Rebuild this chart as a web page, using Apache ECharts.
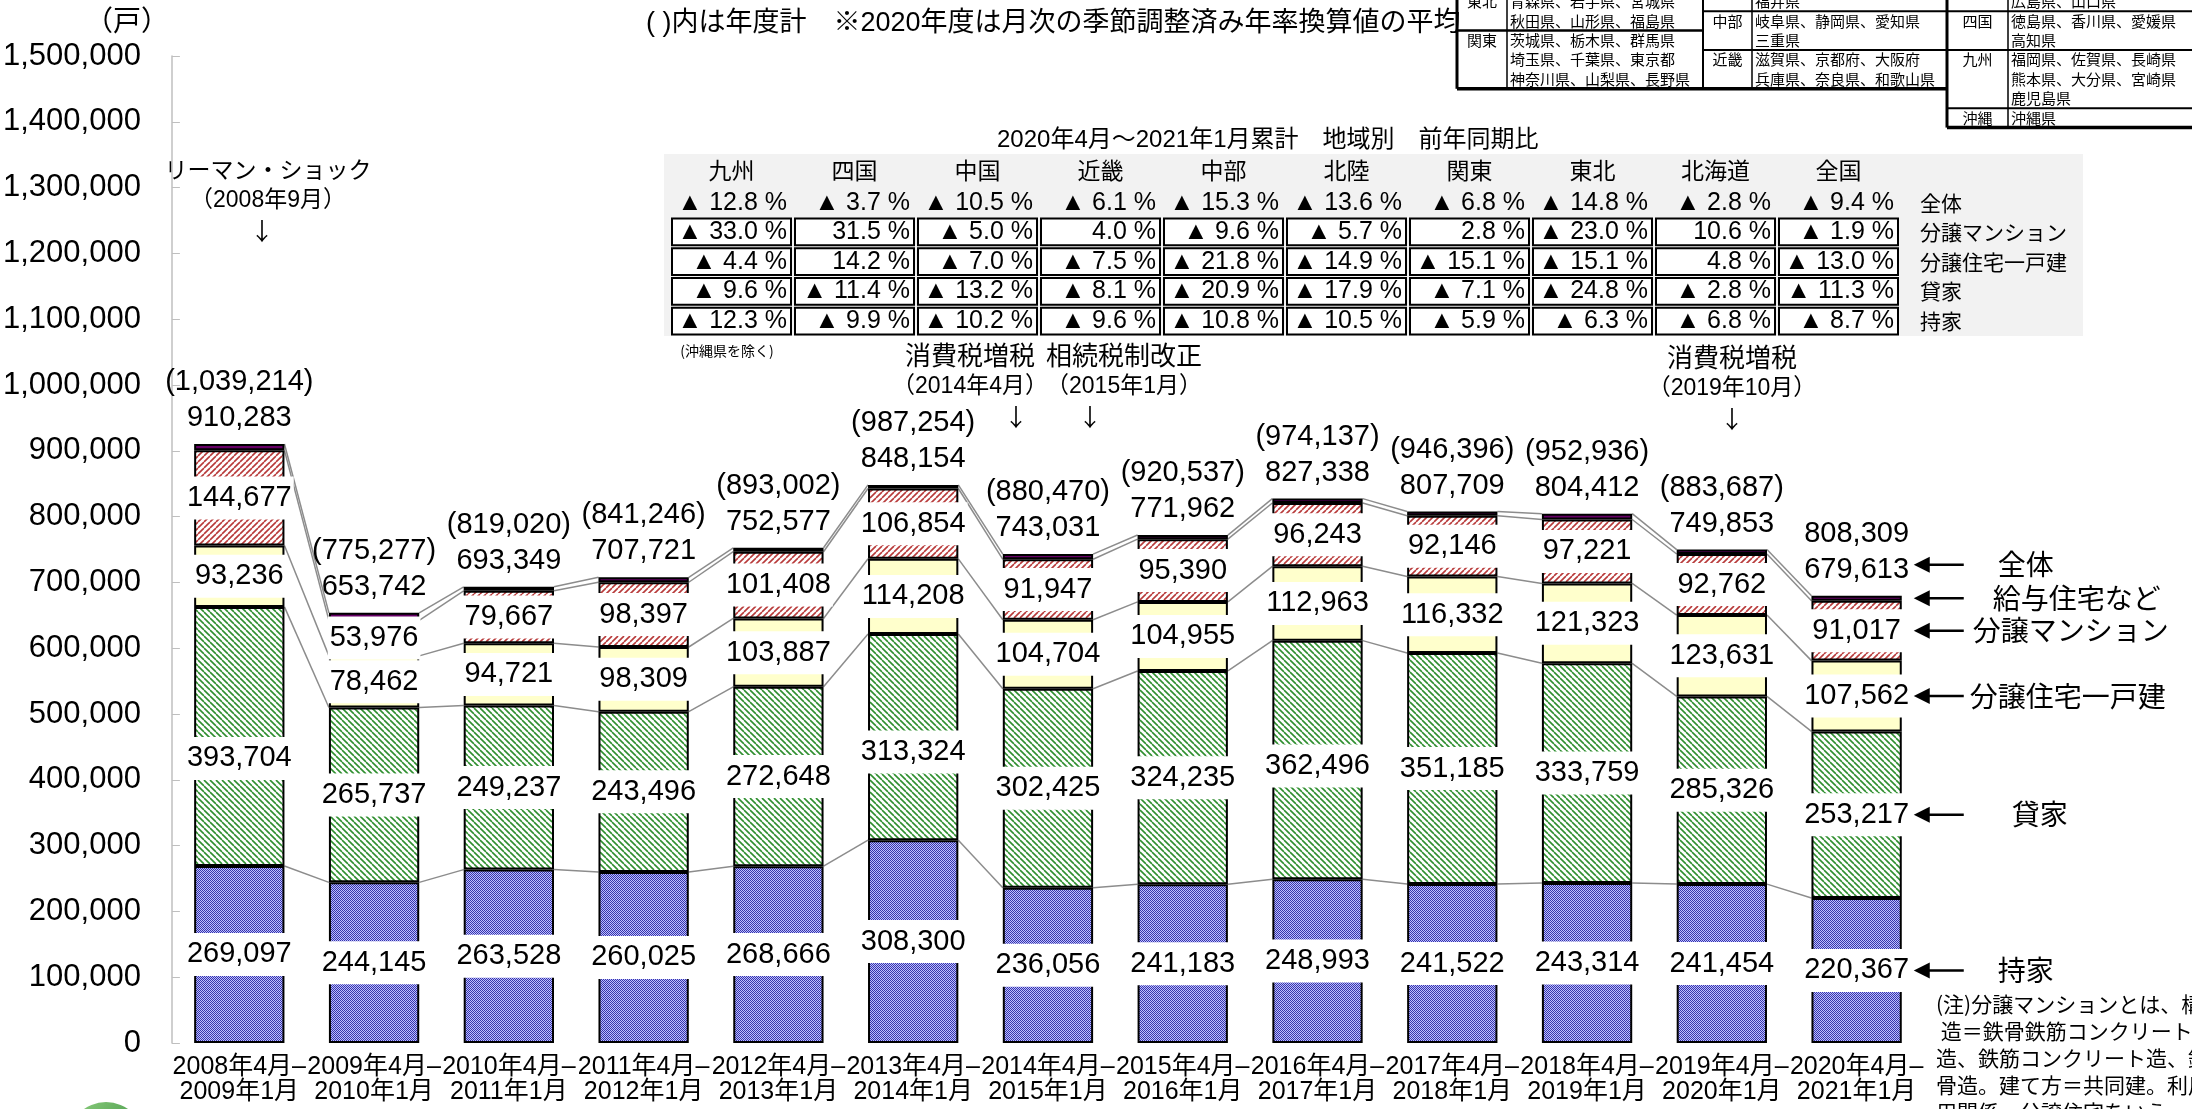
<!DOCTYPE html>
<title>新設住宅着工戸数</title>
<style>
body {margin: 0; background: #fff;}
#echart {height: 1109px; width: 2192px;}
</style>
<div id='echart'></div>
<script src='https://cdn.jsdelivr.net/npm/echarts@6/dist/echarts.min.js'></script>
<script>
let periods = ['2008年4月–\n2009年1月', '2009年4月–\n2010年1月', '2010年4月–\n2011年1月', '2011年4月–\n2012年1月', '2012年4月–\n2013年1月', '2013年4月–\n2014年1月', '2014年4月–\n2015年1月', '2015年4月–\n2016年1月', '2016年4月–\n2017年1月', '2017年4月–\n2018年1月', '2018年4月–\n2019年1月', '2019年4月–\n2020年1月', '2020年4月–\n2021年1月']
let mochiie = [269097, 244145, 263528, 260025, 268666, 308300, 236056, 241183, 248993, 241522, 243314, 241454, 220367]
let kashiya = [393704, 265737, 249237, 243496, 272648, 313324, 302425, 324235, 362496, 351185, 333759, 285326, 253217]
let kodate = [93236, 78462, 94721, 98309, 103887, 114208, 104704, 104955, 112963, 116332, 121323, 123631, 107562]
let mansion = [144677, 53976, 79667, 98397, 101408, 106854, 91947, 95390, 96243, 92146, 97221, 92762, 91017]
let kyuyo = [9569, 11422, 6196, 7494, 5968, 5468, 7899, 6199, 6643, 6524, 8795, 6680, 7450]
let totals = [910283, 653742, 693349, 707721, 752577, 848154, 743031, 771962, 827338, 807709, 804412, 749853, 679613]
let fiscal_totals = ['(1,039,214)', '(775,277)', '(819,020)', '(841,246)', '(893,002)', '(987,254)', '(880,470)', '(920,537)', '(974,137)', '(946,396)', '(952,936)', '(883,687)', '808,309']
let y_ticks = {min: 0, max: 1500000, interval: 100000}

let regions = ['九州', '四国', '中国', '近畿', '中部', '北陸', '関東', '東北', '北海道', '全国']
let region_rows = ['全体', '分譲マンション', '分譲住宅一戸建', '貸家', '持家']
let region_change = [
	[-12.8, -3.7, -10.5, -6.1, -15.3, -13.6, -6.8, -14.8, -2.8, -9.4],
	[-33.0, 31.5, -5.0, 4.0, -9.6, -5.7, 2.8, -23.0, 10.6, -1.9],
	[-4.4, 14.2, -7.0, -7.5, -21.8, -14.9, -15.1, -15.1, 4.8, -13.0],
	[-9.6, -11.4, -13.2, -8.1, -20.9, -17.9, -7.1, -24.8, -2.8, -11.3],
	[-12.3, -9.9, -10.2, -9.6, -10.8, -10.5, -5.9, -6.3, -6.8, -8.7],
]
// 地域区分表 [列, 行, 文字]
let pref_cells = [
	[0, 0, '東北'], [1, 0, '青森県、岩手県、宮城県'], [1, 1, '秋田県、山形県、福島県'],
	[0, 2, '関東'], [1, 2, '茨城県、栃木県、群馬県'], [1, 3, '埼玉県、千葉県、東京都'], [1, 4, '神奈川県、山梨県、長野県'],
	[3, 0, '福井県'], [2, 1, '中部'], [3, 1, '岐阜県、静岡県、愛知県'], [3, 2, '三重県'],
	[2, 3, '近畿'], [3, 3, '滋賀県、京都府、大阪府'], [3, 4, '兵庫県、奈良県、和歌山県'],
	[5, 0, '広島県、山口県'], [4, 1, '四国'], [5, 1, '徳島県、香川県、愛媛県'], [5, 2, '高知県'],
	[4, 3, '九州'], [5, 3, '福岡県、佐賀県、長崎県'], [5, 4, '熊本県、大分県、宮崎県'], [5, 5, '鹿児島県'],
	[4, 6, '沖縄'], [5, 6, '沖縄県'],
]
let events = [
	{x: 268, y: 169, lines: ['リーマン・ショック', '（2008年9月）'], arrow: 262},
	{x: 970, y: 355, lines: ['消費税増税', '（2014年4月）'], arrow: 1016},
	{x: 1124, y: 355, lines: ['相続税制改正', '（2015年1月）'], arrow: 1090},
	{x: 1732, y: 357, lines: ['消費税増税', '（2019年10月）'], arrow: 1732},
]
let note_lines = ['(注)分譲マンションとは、構造＝', ' 造＝鉄骨鉄筋コンクリート造', '造、鉄筋コンクリート造、鉄骨', '骨造。建て方＝共同建。利用', '用関係＝分譲住宅をいう。']

const SANS = "'Liberation Sans', Arial, 'Noto Sans CJK JP', sans-serif"
const JP = "'Noto Sans CJK JP', sans-serif"

function fmt(v) {return v.toLocaleString('en-US')}

function tile(draw) {
	let c = document.createElement('canvas')
	c.width = 6
	c.height = 6
	let ctx = c.getContext('2d')
	draw(ctx)
	return {image: c, repetition: 'repeat'}
}
function hatch(color, back) {
	return tile(function (ctx) {
		ctx.fillStyle = '#fff'
		ctx.fillRect(0, 0, 6, 6)
		ctx.strokeStyle = color
		ctx.lineWidth = 1.6
		for (let k = -6; k <= 6; k += 6) {
			ctx.beginPath()
			if (back) {ctx.moveTo(k, 0); ctx.lineTo(k + 6, 6)}
			else {ctx.moveTo(k + 6, 0); ctx.lineTo(k, 6)}
			ctx.stroke()
		}
	})
}
let blue_fill = tile(function (ctx) {
	ctx.fillStyle = '#bcbcff'
	ctx.fillRect(0, 0, 6, 6)
	ctx.fillStyle = '#3636aa'
	for (let i = 0; i < 6; i++) for (let j = 0; j < 6; j++) if ((i + j) % 2 == 0) ctx.fillRect(i, j, 1, 1)
})

let seg_label = {
	show: true, position: 'inside', color: '#000', fontSize: 29, fontFamily: SANS,
	backgroundColor: '#fff', padding: [5, 2], lineHeight: 33,
	formatter: p => fmt(p.value),
}
// 貸家ラベルだけ元図では下寄せ
let kashiya_label_dy = [22, 0, 0, 0, 0, 15, 0, 0, 6, 0, 0, 0, 0]
let bar_border = {borderColor: '#000', borderWidth: 2}
let cum = periods.map((p, i) => {
	let c1 = mochiie[i], c2 = c1 + kashiya[i], c3 = c2 + kodate[i], c4 = c3 + mansion[i]
	return [c1, c2, c3, c4, totals[i]]
})

let graphic = []
function text(x, y, s, size, opts) {
	graphic.push({type: 'text', x: x, y: y, silent: true, style: Object.assign({
		text: s, fontSize: size, fontFamily: JP, fill: '#000', textAlign: 'center', textVerticalAlign: 'middle',
	}, opts || {})})
}
function line(x1, y1, x2, y2, w) {
	graphic.push({type: 'line', silent: true, shape: {x1, y1, x2, y2}, style: {stroke: '#000', lineWidth: w}})
}

text(127, 20, '（戸）', 28)
text(646, 24, '( )内は年度計　※2020年度は月次の季節調整済み年率換算値の平均', 27, {textAlign: 'left', fontFamily: SANS})

// 地域別 前年同期比 表
graphic.push({type: 'rect', silent: true, shape: {x: 664, y: 154, width: 1419, height: 182}, style: {fill: '#f2f2f2'}})
text(997, 140, '2020年4月～2021年1月累計　地域別　前年同期比', 24, {textAlign: 'left', fontFamily: SANS})
let col_w = 123, col_x = 670, row_top = 217, row_h = 29.75
regions.forEach((r, c) => text(col_x + col_w * c + col_w / 2, 170, r, 23))
region_change.forEach((vals, r) => {
	let yc = r == 0 ? 203 : row_top + row_h * (r - 1) + row_h / 2
	vals.forEach((v, c) => {
		let x = col_x + col_w * c
		if (r > 0) graphic.push({type: 'rect', silent: true, shape: {x: x + 2, y: row_top + row_h * (r - 1) + 1.5, width: col_w - 4, height: row_h - 3}, style: {fill: '#fff', stroke: '#000', lineWidth: 2}})
		let s = (v < 0 ? '▲ ' : '') + Math.abs(v).toFixed(1) + ' %'
		text(x + col_w - 6, yc, s, 25, {textAlign: 'right', fontFamily: SANS})
	})
	text(1920, yc, region_rows[r], 21, {textAlign: 'left'})
})
text(727, 351, '(沖縄県を除く)', 14)

// 地域区分
let pcol = [1457, 1507, 1703, 1752, 1947, 2008, 2200]
let prow = r => 1.5 + 19.4 * r
pref_cells.forEach(([c, r, s]) => {
	if (c % 2 == 0) text((pcol[c] + pcol[c + 1]) / 2, prow(r), s, 15)
	else text(pcol[c] + 3, prow(r), s, 15, {textAlign: 'left'})
})
let rb = r => prow(r) + 9.7
line(pcol[0], 0, pcol[0], rb(4), 3)
line(pcol[1], 0, pcol[1], rb(4), 1.5)
line(pcol[2], 0, pcol[2], rb(4), 2)
line(pcol[3], 0, pcol[3], rb(4), 1.5)
line(pcol[4], 0, pcol[4], rb(6), 3)
line(pcol[5], 0, pcol[5], rb(6), 1.5)
line(pcol[0], rb(1), pcol[2], rb(1), 2.5)
line(pcol[2], rb(0), pcol[4], rb(0), 2)
line(pcol[2], rb(2), pcol[4], rb(2), 2)
line(pcol[4], rb(0), pcol[6], rb(0), 2)
line(pcol[4], rb(2), pcol[6], rb(2), 2)
line(pcol[4], rb(5), pcol[6], rb(5), 2)
line(pcol[0], rb(4), pcol[4], rb(4), 3.5)
line(pcol[4], rb(6), pcol[6], rb(6), 3.5)

events.forEach(e => {
	text(e.x, e.y, e.lines[0], e.lines[0].length > 6 ? 23 : 26)
	text(e.x, e.y + 32, e.lines[1], 23, {fontFamily: SANS})
	text(e.arrow, e.y + 62, '↓', 24)
})
note_lines.forEach((s, i) => text(1936, 1004 + 27 * i, s, 21, {textAlign: 'left'}))
graphic.push({type: 'circle', silent: true, shape: {cx: 106, cy: 1140, r: 38}, style: {fill: new echarts.graphic.LinearGradient(0, 0, 1, 1, [{offset: 0, color: '#8fd07f'}, {offset: 1, color: '#1f7a2c'}])}})

let echart = echarts.init(document.querySelector('#echart'))
let option = {
	animation: false,
	grid: {left: 166, right: 268, top: 56, bottom: 66},
	xAxis: {
		type: 'category', data: periods,
		axisLine: {show: false}, axisTick: {show: false},
		axisLabel: {fontSize: 25, lineHeight: 25, color: '#000', fontFamily: SANS, margin: 12, interval: 0},
	},
	yAxis: {
		type: 'value', min: y_ticks.min, max: y_ticks.max, interval: y_ticks.interval,
		axisLine: {show: true, lineStyle: {color: '#bfbfbf', width: 1.5}},
		axisTick: {show: true, inside: true, length: 8, lineStyle: {color: '#bfbfbf'}},
		splitLine: {show: false},
		axisLabel: {fontSize: 31, color: '#000', fontFamily: SANS, margin: 31, formatter: fmt},
	},
	series: [
		{type: 'bar', name: '持家', stack: 'a', z: 2, barWidth: '67%', data: mochiie, itemStyle: Object.assign({color: blue_fill}, bar_border), label: seg_label},
		{type: 'bar', name: '貸家', stack: 'a', z: 2, itemStyle: Object.assign({color: hatch('#2f8f2f', true)}, bar_border), label: seg_label,
			data: kashiya.map((v, i) => ({value: v, label: {offset: [0, kashiya_label_dy[i]]}}))},
		{type: 'bar', name: '分譲住宅一戸建', stack: 'a', z: 2, data: kodate, itemStyle: Object.assign({color: '#ffffcc'}, bar_border), label: seg_label},
		{type: 'bar', name: '分譲マンション', stack: 'a', z: 2, data: mansion, itemStyle: Object.assign({color: hatch('#b83a3a', false)}, bar_border), label: seg_label},
		{type: 'bar', name: '給与住宅など', stack: 'a', z: 2, data: kyuyo, itemStyle: Object.assign({color: '#660066'}, bar_border),
			label: {show: true, position: 'top', distance: 8, color: '#000', fontSize: 29, lineHeight: 36, fontFamily: SANS,
				formatter: p => fiscal_totals[p.dataIndex] + '\n' + fmt(totals[p.dataIndex])}},
		{
			type: 'custom', name: 'series lines', z: 1, silent: true,
			encode: {x: 0, y: 1},
			data: cum.slice(0, -1).map((c, i) => [i].concat(c, cum[i + 1])),
			renderItem: function (params, api) {
				let i = api.value(0)
				let half = api.size([1, 0])[0] * 0.335
				let children = []
				for (let k = 1; k <= 5; k++) {
					let a = api.coord([i, api.value(k)])
					let b = api.coord([i + 1, api.value(k + 5)])
					children.push({type: 'line', shape: {x1: a[0] + half, y1: a[1], x2: b[0] - half, y2: b[1]}, style: {stroke: '#8c8c8c', lineWidth: 1.5}})
				}
				return {type: 'group', children: children}
			},
		},
		{
			type: 'custom', name: 'legend arrows', z: 3, silent: true,
			encode: {x: 0, y: 5},
			data: [[periods.length - 1].concat(cum[cum.length - 1])],
			renderItem: function (params, api) {
				let i = api.value(0)
				let xr = api.coord([i, 0])[0] + api.size([1, 0])[0] * 0.335
				let ymid = (lo, hi) => api.coord([i, (lo + hi) / 2])[1]
				let c = [0, api.value(1), api.value(2), api.value(3), api.value(4), api.value(5)]
				let items = [
					{y: api.coord([i, c[5]])[1] - 31, name: '全体', dx: 96},
					{y: ymid(c[4], c[5]), name: '給与住宅など', dx: 91},
					{y: ymid(c[3], c[4]), name: '分譲マンション', dx: 71},
					{y: ymid(c[2], c[3]), name: '分譲住宅一戸建', dx: 68},
					{y: ymid(c[1], c[2]), name: '貸家', dx: 110},
					{y: ymid(c[0], c[1]), name: '持家', dx: 96},
				]
				let children = []
				items.forEach(it => {
					children.push({type: 'line', shape: {x1: xr + 22, y1: it.y, x2: xr + 62, y2: it.y}, style: {stroke: '#000', lineWidth: 2.5}})
					children.push({type: 'polygon', shape: {points: [[xr + 12, it.y], [xr + 28, it.y - 8], [xr + 28, it.y + 8]]}, style: {fill: '#000'}})
					children.push({type: 'text', x: xr + it.dx, y: it.y, style: {text: it.name, fontSize: 28, fontFamily: JP, fill: '#000', align: 'left', verticalAlign: 'middle'}})
				})
				return {type: 'group', children: children}
			},
		},
	],
	graphic: graphic,
}
echart.setOption(option)
</script>
